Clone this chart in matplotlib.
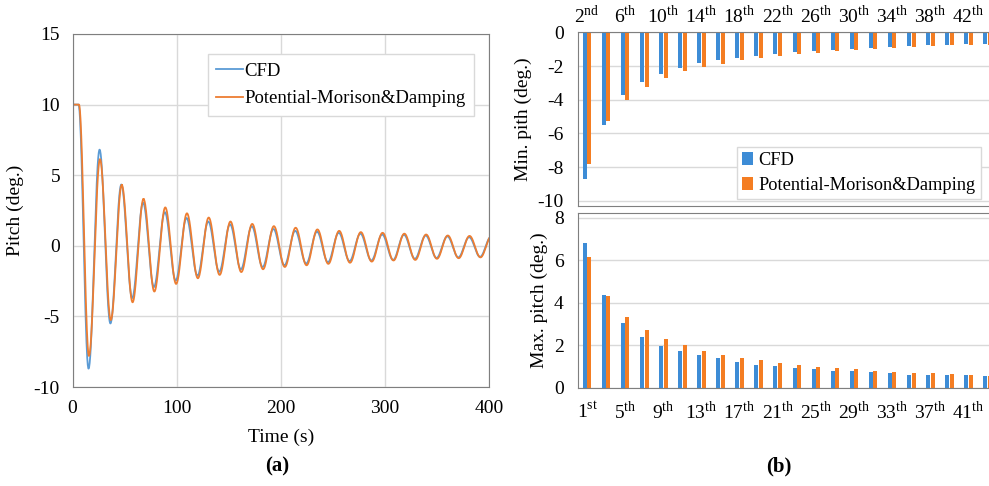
import matplotlib
matplotlib.use("Agg")
import matplotlib.pyplot as plt
import numpy as np

plt.rcParams['font.family'] = ['Liberation Serif', 'DejaVu Serif']
plt.rcParams['mathtext.fontset'] = 'custom'
plt.rcParams['mathtext.rm'] = 'Liberation Serif'
plt.rcParams['font.size'] = 14
plt.rcParams['axes.unicode_minus'] = False

# peak / trough amplitudes (deg.)
min_cfd = [-8.7, -5.5, -3.7, -2.92, -2.46, -2.12, -1.84, -1.66, -1.5, -1.38, -1.26,
           -1.16, -1.08, -1.04, -1.0, -0.92, -0.86, -0.82, -0.78, -0.74, -0.72, -0.7]
min_pot = [-7.8, -5.26, -4.0, -3.24, -2.7, -2.3, -2.06, -1.86, -1.66, -1.5, -1.38,
           -1.28, -1.2, -1.12, -1.04, -1.0, -0.92, -0.88, -0.82, -0.78, -0.76, -0.74]
max_cfd = [6.81, 4.34, 3.05, 2.38, 1.97, 1.72, 1.52, 1.38, 1.19, 1.06, 1.0,
           0.92, 0.86, 0.8, 0.78, 0.73, 0.67, 0.61, 0.62, 0.62, 0.59, 0.53]
max_pot = [6.14, 4.31, 3.31, 2.72, 2.3, 2.0, 1.72, 1.55, 1.39, 1.28, 1.16,
           1.06, 0.97, 0.92, 0.86, 0.8, 0.73, 0.7, 0.67, 0.64, 0.59, 0.55]

# times of the extremes in the time series (s)
trough_t = [15.4, 36.4, 57.3, 78.2, 99.1, 120.0, 140.9, 161.7, 182.6, 203.5, 224.4,
            245.3, 266.1, 287.0, 307.9, 328.8, 349.6, 370.5, 391.4]
peak_t = [26.0, 46.9, 67.8, 88.7, 109.5, 130.4, 151.3, 172.2, 193.0, 213.9, 234.8,
          255.7, 276.5, 297.4, 318.3, 339.2, 360.0, 380.9, 401.8]
init_pitch = 10.0
release_t = 5.8
lag_pot = 0.4

min_labels = ['2$^{\\mathrm{nd}}$', '6$^{\\mathrm{th}}$', '10$^{\\mathrm{th}}$', '14$^{\\mathrm{th}}$',
              '18$^{\\mathrm{th}}$', '22$^{\\mathrm{th}}$', '26$^{\\mathrm{th}}$', '30$^{\\mathrm{th}}$',
              '34$^{\\mathrm{th}}$', '38$^{\\mathrm{th}}$', '42$^{\\mathrm{th}}$']
max_labels = ['1$^{\\mathrm{st}}$', '5$^{\\mathrm{th}}$', '9$^{\\mathrm{th}}$', '13$^{\\mathrm{th}}$',
              '17$^{\\mathrm{th}}$', '21$^{\\mathrm{th}}$', '25$^{\\mathrm{th}}$', '29$^{\\mathrm{th}}$',
              '33$^{\\mathrm{th}}$', '37$^{\\mathrm{th}}$', '41$^{\\mathrm{th}}$']

c_line_b = '#5B9BD5'
c_line_o = '#ED7D31'
c_bar_b = '#3D8CD6'
c_bar_o = '#F47D22'
c_grid = '#D9D9D9'
c_spine = '#7F7F7F'


def build_curve(lows, highs, lag):
    # join the read extremes with smooth half-waves
    kt = [0.0, release_t + lag]
    kv = [init_pitch, init_pitch]
    for i in range(len(trough_t)):
        kt += [trough_t[i] + lag, peak_t[i] + lag]
        kv += [lows[i], highs[i]]
    ts, vs = [], []
    for a in range(len(kt) - 1):
        s = np.linspace(0, 1, 40)
        ts.append(kt[a] + (kt[a + 1] - kt[a]) * s)
        vs.append(kv[a] + (kv[a + 1] - kv[a]) * (1 - np.cos(np.pi * s)) / 2)
    return np.concatenate(ts), np.concatenate(vs)


fig = plt.figure(figsize=(9.89, 4.86), dpi=100)

# (a) time series
ax = fig.add_axes([72.5 / 989, 1 - 387 / 486, 416.5 / 989, 353 / 486])
t1, v1 = build_curve(min_cfd, max_cfd, 0.0)
t2, v2 = build_curve(min_pot, max_pot, lag_pot)
ax.plot(t1, v1, color=c_line_b, lw=1.3, label='CFD')
ax.plot(t2, v2, color=c_line_o, lw=1.3, label='Potential-Morison&Damping')
ax.set_xlim(0, 400)
ax.set_ylim(-10, 15)
ax.set_xticks([0, 100, 200, 300, 400])
ax.set_yticks([-10, -5, 0, 5, 10, 15])
ax.grid(True, color=c_grid, lw=1)
ax.set_axisbelow(True)
ax.tick_params(length=0, pad=9)
for sp in ax.spines.values():
    sp.set_color(c_spine)
ax.set_xlabel('Time (s)', fontsize=14, labelpad=9)
ax.set_ylabel('Pitch (deg.)', fontsize=14, labelpad=7)
leg = ax.legend(loc='upper left', bbox_to_anchor=(0.325, 0.943), fontsize=13.5, handlelength=1.4,
                handletextpad=0.1, borderpad=0.45, labelspacing=0.55, fancybox=False,
                framealpha=1, borderaxespad=0)
leg.get_frame().set_edgecolor(c_grid)
leg.get_frame().set_linewidth(1)

# (b) extremes
n = len(min_cfd)
x = np.arange(n)
w = 0.21
off = 0.12
bl = 577.5 / 989
bw = 19.07 * n / 989

ax1 = fig.add_axes([bl, 1 - 206 / 486, bw, (206 - 32.3) / 486])
ax1.bar(x - off, min_cfd, width=w, color=c_bar_b, label='CFD')
ax1.bar(x + off, min_pot, width=w, color=c_bar_o, label='Potential-Morison&Damping')
ax1.set_xlim(-0.5, n - 0.5)
ax1.set_ylim(-10.3, 0)
ax1.set_yticks([-10, -8, -6, -4, -2, 0])
ax1.set_xticks(x[::2])
ax1.set_xticklabels(min_labels)
ax1.xaxis.tick_top()
ax1.tick_params(length=0, pad=4)
ax1.tick_params(axis='y', pad=10)
ax1.yaxis.grid(True, color=c_grid, lw=1)
ax1.set_axisbelow(True)
for sp in ax1.spines.values():
    sp.set_color(c_spine)
ax1.set_ylabel('Min. pith (deg.)', fontsize=14, labelpad=4)
leg1 = ax1.legend(loc='lower left', bbox_to_anchor=(0.38, 0.04), fontsize=13.2, handlelength=0.6,
                  handleheight=0.7, handletextpad=0.25, borderpad=0.3, labelspacing=0.4,
                  fancybox=False, framealpha=1, borderaxespad=0)
leg1.get_frame().set_edgecolor(c_grid)
leg1.get_frame().set_linewidth(1)

ax2 = fig.add_axes([bl, 1 - 387.7 / 486, bw, (387.7 - 213.3) / 486])
ax2.bar(x - off, max_cfd, width=w, color=c_bar_b)
ax2.bar(x + off, max_pot, width=w, color=c_bar_o)
ax2.set_xlim(-0.5, n - 0.5)
ax2.set_ylim(0, 8.2)
ax2.set_yticks([0, 2, 4, 6, 8])
ax2.set_xticks(x[::2])
ax2.set_xticklabels(max_labels)
ax2.tick_params(length=0, pad=9)
ax2.tick_params(axis='y', pad=10)
ax2.yaxis.grid(True, color=c_grid, lw=1)
ax2.set_axisbelow(True)
for sp in ax2.spines.values():
    sp.set_color(c_spine)
ax2.set_ylabel('Max. pitch (deg.)', fontsize=14, labelpad=4)

fig.text(277 / 989, 1 - 466 / 486, '(a)', fontsize=15, fontweight='bold', ha='center', va='center')
fig.text(779 / 989, 1 - 466 / 486, '(b)', fontsize=15, fontweight='bold', ha='center', va='center')

fig.savefig('out.png', dpi=100)
